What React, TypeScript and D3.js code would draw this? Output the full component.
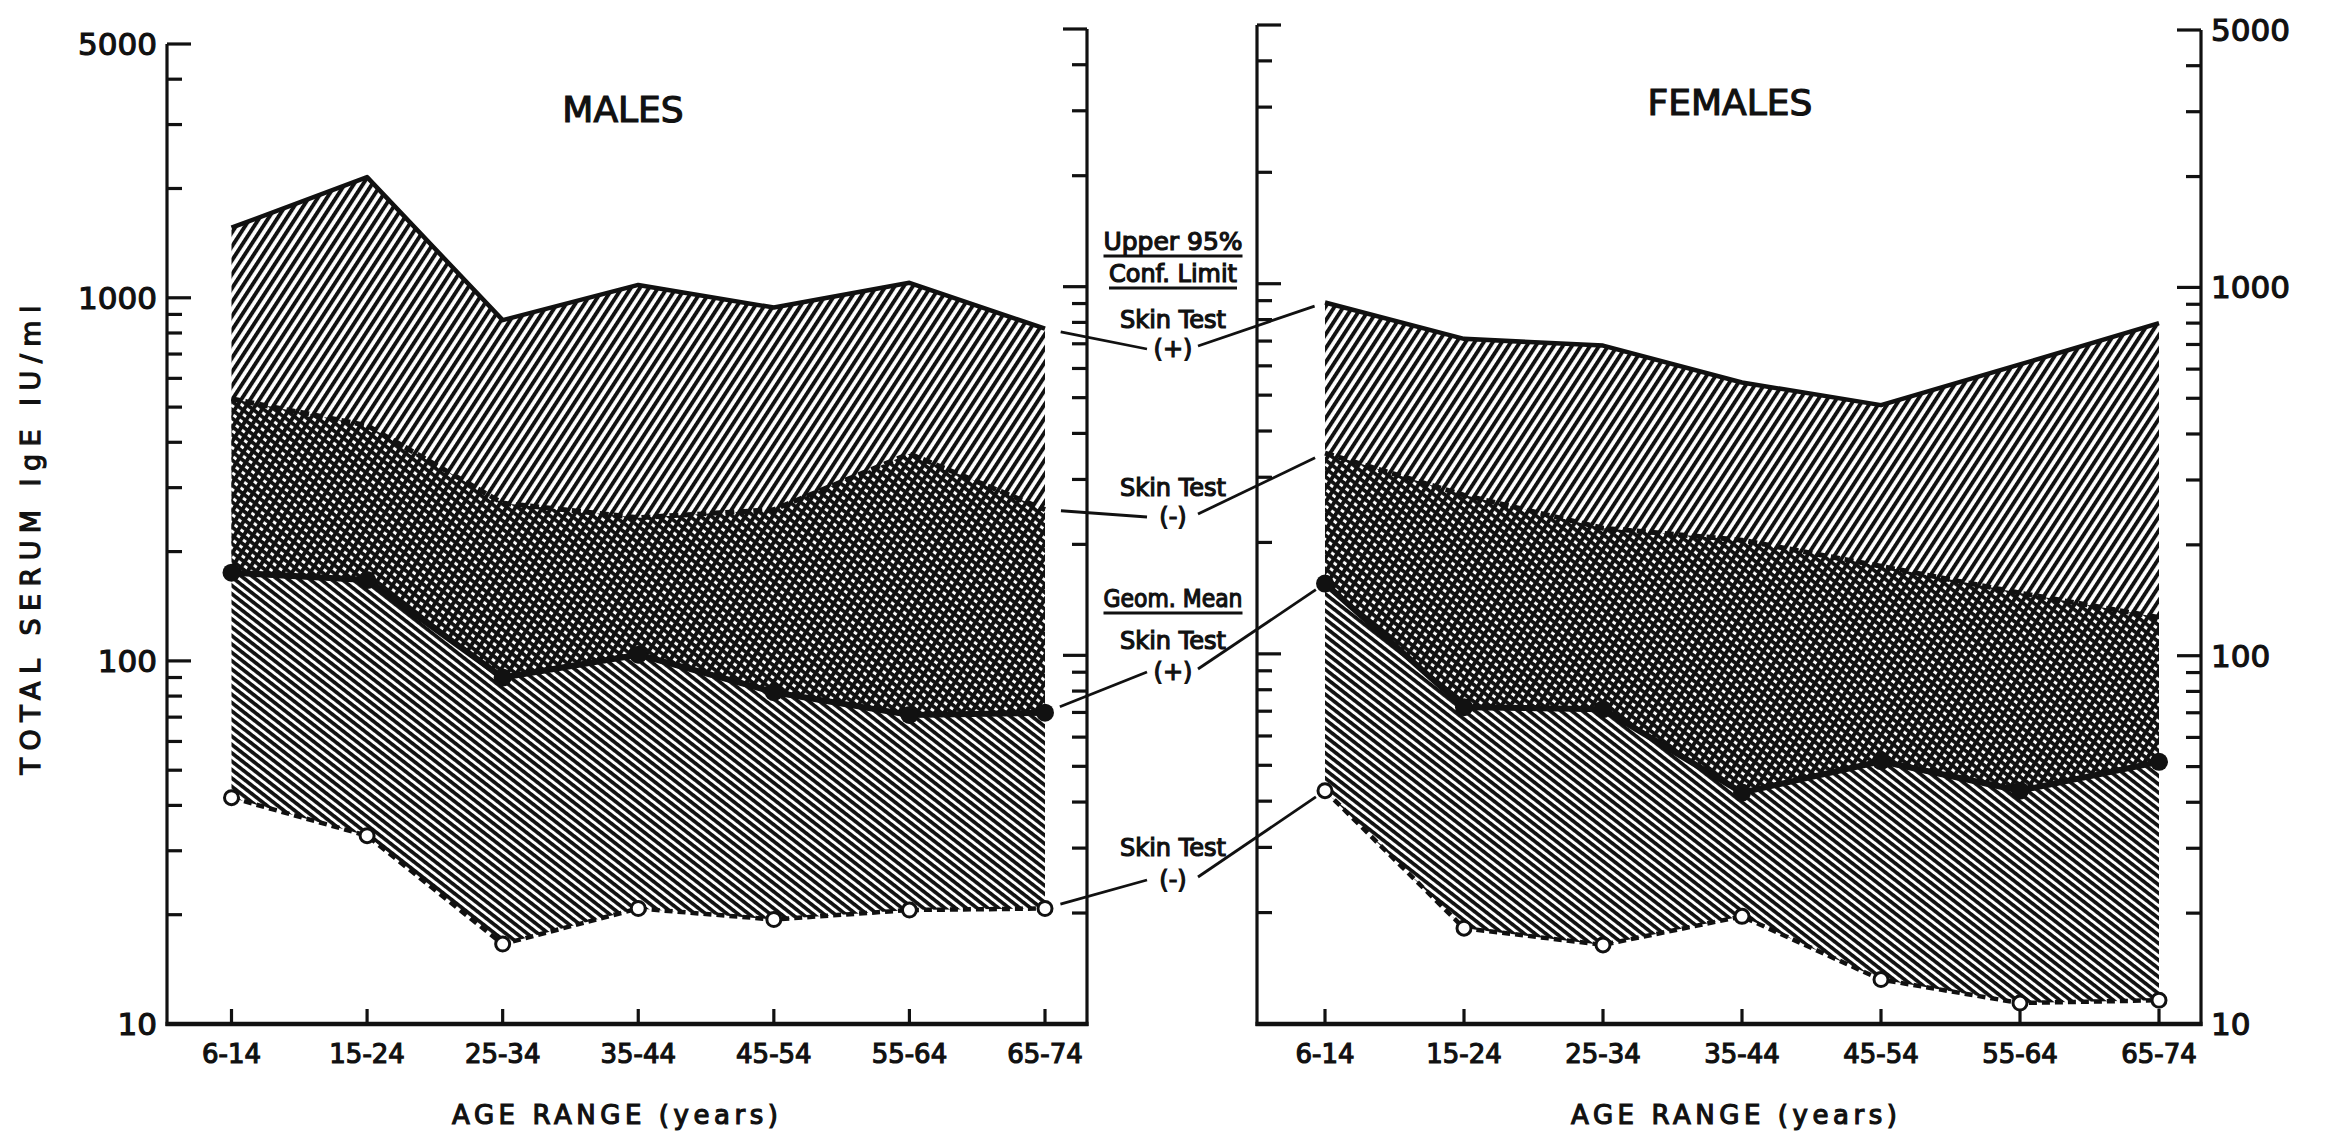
import { useRef, useEffect } from "react";
import * as d3 from "d3";

const W = 2327;
const H = 1132;

const AGE_GROUPS = ["6-14", "15-24", "25-34", "35-44", "45-54", "55-64", "65-74"];
const Y_LABELS = [5000, 1000, 100, 10];

// males (IU/ml)
const MALE_UPPER_POS = [1560, 2150, 868, 1085, 940, 1100, 822];
const MALE_UPPER_NEG = [527, 445, 272, 248, 261, 372, 261];
const MALE_MEAN_POS = [175, 167, 90, 104, 82, 71, 72];
const MALE_MEAN_NEG = [42, 33, 16.6, 20.8, 19.4, 20.6, 20.8];

// females (IU/ml)
const FEMALE_UPPER_POS = [910, 725, 695, 552, 479, 618, 800];
const FEMALE_UPPER_NEG = [355, 273, 222, 206, 175, 148, 127];
const FEMALE_MEAN_POS = [157, 72.5, 71.6, 42.5, 51.7, 43, 51.5];
const FEMALE_MEAN_NEG = [43, 18.2, 16.4, 19.6, 13.2, 11.4, 11.6];

const FONT = "'DejaVu Sans', Verdana, sans-serif";
const INK = "#111";
const BASE_Y = 1024;

type Row = { a: string; up: number; un: number; mp: number; mn: number };

export default function App() {
  const svgRef = useRef<SVGSVGElement>(null);

  useEffect(() => {
    const svg = d3.select(svgRef.current);
    svg.selectAll("*").remove();

    // --- hatch patterns ---
    const defs = svg.append("defs");
    const hatch = (id: string, angle: number, period: number, thick: number) => {
      const p = defs
        .append("pattern")
        .attr("id", id)
        .attr("patternUnits", "userSpaceOnUse")
        .attr("width", 20)
        .attr("height", period)
        .attr("patternTransform", `rotate(${angle})`);
      p.append("rect").attr("x", 0).attr("y", 0).attr("width", 20).attr("height", thick).attr("fill", INK);
    };
    hatch("hatch-up", -57, 7.6, 3.9);
    hatch("hatch-down", 38, 6.6, 3.7);

    const g = svg.append("g");

    const text = (x: number, y: number, s: string, size: number, anchor = "middle") =>
      g
        .append("text")
        .attr("x", x)
        .attr("y", y)
        .attr("text-anchor", anchor)
        .attr("font-family", FONT)
        .attr("font-size", size)
        .attr("fill", INK)
        .attr("stroke", INK)
        .attr("stroke-width", 1.2)
        .text(s);

    // --- vertical log axis ---
    function drawYAxis(xPos: number, scale: d3.ScaleLogarithmic<number, number>, dir: number) {
      const [y0, y1] = scale.range();
      g.append("line")
        .attr("x1", xPos).attr("x2", xPos)
        .attr("y1", y0 + 2).attr("y2", y1)
        .attr("stroke", INK).attr("stroke-width", 3.2);
      scale.ticks().forEach((v) => {
        const major = v === 10 || v === 100 || v === 1000 || v === 5000;
        g.append("line")
          .attr("x1", xPos).attr("x2", xPos + dir * (major ? 24 : 15))
          .attr("y1", scale(v)).attr("y2", scale(v))
          .attr("stroke", INK).attr("stroke-width", 3.2);
      });
    }

    const panels = [
      {
        title: "MALES", titleX: 623, titleY: 122, xTitleX: 615,
        xRange: [231.5, 1045], yTop: 44,
        axisL: 167, axisLTop: 44, axisR: 1087, axisRTop: 29,
        labelSide: "left",
        up: MALE_UPPER_POS, un: MALE_UPPER_NEG, mp: MALE_MEAN_POS, mn: MALE_MEAN_NEG,
      },
      {
        title: "FEMALES", titleX: 1730, titleY: 115, xTitleX: 1734,
        xRange: [1325, 2159], yTop: 30,
        axisL: 1257, axisLTop: 25, axisR: 2201, axisRTop: 30,
        labelSide: "right",
        up: FEMALE_UPPER_POS, un: FEMALE_UPPER_NEG, mp: FEMALE_MEAN_POS, mn: FEMALE_MEAN_NEG,
      },
    ];

    const ends: { x: number; y: Record<string, number> }[] = [];

    panels.forEach((p, pi) => {
      const x = d3.scalePoint<string>().domain(AGE_GROUPS).range(p.xRange as [number, number]);
      const y = d3.scaleLog().domain([10, 5000]).range([BASE_Y, p.yTop]);
      const rows: Row[] = AGE_GROUPS.map((a, i) => ({ a, up: p.up[i], un: p.un[i], mp: p.mp[i], mn: p.mn[i] }));

      // --- axes ---
      drawYAxis(p.axisL, d3.scaleLog().domain([10, 5000]).range([BASE_Y, p.axisLTop]), 1);
      drawYAxis(p.axisR, d3.scaleLog().domain([10, 5000]).range([BASE_Y, p.axisRTop]), -1);
      g.append("line")
        .attr("x1", p.axisL - 1.5).attr("x2", p.axisR + 1.5)
        .attr("y1", BASE_Y).attr("y2", BASE_Y)
        .attr("stroke", INK).attr("stroke-width", 4.5);
      AGE_GROUPS.forEach((a) => {
        g.append("line")
          .attr("x1", x(a)!).attr("x2", x(a)!)
          .attr("y1", BASE_Y).attr("y2", BASE_Y - 15)
          .attr("stroke", INK).attr("stroke-width", 3.2);
        text(x(a)!, 1063, a, 26);
      });

      // tick labels
      const labScale = d3
        .scaleLog()
        .domain([10, 5000])
        .range([BASE_Y, p.labelSide === "left" ? p.axisLTop : p.axisRTop]);
      Y_LABELS.forEach((v) => {
        const t = p.labelSide === "left" ? text(157, labScale(v), String(v), 31, "end") : text(2211, labScale(v), String(v), 31, "start");
        t.attr("dominant-baseline", "central");
      });

      text(p.titleX, p.titleY, p.title, 36);
      text(p.xTitleX, 1124, "AGE RANGE (years)", 26).attr("textLength", 326).attr("lengthAdjust", "spacing");

      // --- hatched bands ---
      const areaNeg = d3.area<Row>().x((d) => x(d.a)!).y0((d) => y(d.mn)).y1((d) => y(d.un));
      const areaPos = d3.area<Row>().x((d) => x(d.a)!).y0((d) => y(d.mp)).y1((d) => y(d.up));
      g.append("path").attr("d", areaNeg(rows)!).attr("fill", "url(#hatch-down)");
      g.append("path").attr("d", areaPos(rows)!).attr("fill", "url(#hatch-up)");

      const line = (key: keyof Row) => d3.line<Row>().x((d) => x(d.a)!).y((d) => y(d[key] as number));

      g.append("path").attr("d", line("up")(rows)!)
        .attr("fill", "none").attr("stroke", INK).attr("stroke-width", 4.5).attr("stroke-linejoin", "round");
      g.append("path").attr("d", line("un")(rows)!)
        .attr("fill", "none").attr("stroke", INK).attr("stroke-width", 5).attr("stroke-dasharray", "9,5");
      g.append("path").attr("d", line("mp")(rows)!)
        .attr("fill", "none").attr("stroke", INK).attr("stroke-width", 6).attr("stroke-linejoin", "round");
      g.append("path").attr("d", line("mn")(rows)!)
        .attr("fill", "none").attr("stroke", INK).attr("stroke-width", 4.5).attr("stroke-dasharray", "8,5");

      rows.forEach((d) => {
        g.append("circle").attr("cx", x(d.a)!).attr("cy", y(d.mp)).attr("r", 9).attr("fill", INK);
        g.append("circle").attr("cx", x(d.a)!).attr("cy", y(d.mn)).attr("r", 7)
          .attr("fill", "#fff").attr("stroke", INK).attr("stroke-width", 3);
      });

      const edge = pi === 0 ? rows[rows.length - 1] : rows[0];
      ends.push({
        x: x(edge.a)!,
        y: { up: y(edge.up), un: y(edge.un), mp: y(edge.mp), mn: y(edge.mn) },
      });
    });

    // --- y axis title ---
    g.append("text")
      .attr("transform", "translate(40,540) rotate(-90)")
      .attr("text-anchor", "middle")
      .attr("font-family", FONT)
      .attr("font-size", 27)
      .attr("fill", INK)
      .attr("stroke", INK)
      .attr("stroke-width", 1.2)
      .attr("textLength", 469)
      .attr("lengthAdjust", "spacing")
      .text("TOTAL SERUM IgE IU/ml");

    // --- middle legend with leader lines ---
    const cx = 1173;
    const header = (s: string, yb: number, len: number) => {
      text(cx, yb, s, 24).attr("textLength", len).attr("lengthAdjust", "spacingAndGlyphs");
      g.append("line")
        .attr("x1", cx - len / 2).attr("x2", cx + len / 2)
        .attr("y1", yb + 6).attr("y2", yb + 6)
        .attr("stroke", INK).attr("stroke-width", 2.8);
    };
    header("Upper 95%", 250, 139);
    header("Conf. Limit", 282, 128);
    header("Geom. Mean", 607, 139);

    const legend = [
      { key: "up", sign: "(+)", skinY: 328, signY: 357 },
      { key: "un", sign: "(-)", skinY: 496, signY: 525 },
      { key: "mp", sign: "(+)", skinY: 649, signY: 680 },
      { key: "mn", sign: "(-)", skinY: 856, signY: 888 },
    ];

    const shift = (from: number[], to: number[], gap: number) => {
      const dx = to[0] - from[0];
      const dy = to[1] - from[1];
      const L = Math.hypot(dx, dy);
      return [from[0] + (dx / L) * gap, from[1] + (dy / L) * gap];
    };

    legend.forEach((l) => {
      text(cx, l.skinY, "Skin Test", 24);
      text(cx, l.signY, l.sign, 24);
      const mEnd = [ends[0].x, ends[0].y[l.key]];
      const fStart = [ends[1].x, ends[1].y[l.key]];
      const la = [cx - 26, l.signY - 8];
      const ra = [cx + 25, l.signY - 11];
      const s0 = shift(mEnd, la, 16);
      const s1 = shift(fStart, ra, 11);
      g.append("line").attr("x1", s0[0]).attr("y1", s0[1]).attr("x2", la[0]).attr("y2", la[1])
        .attr("stroke", INK).attr("stroke-width", 2.8);
      g.append("line").attr("x1", ra[0]).attr("y1", ra[1]).attr("x2", s1[0]).attr("y2", s1[1])
        .attr("stroke", INK).attr("stroke-width", 2.8);
    });
  }, []);

  return (
    <div style={{ position: "absolute", left: 0, top: 0, width: W, height: H, background: "#fff" }}>
      <svg ref={svgRef} width={W} height={H} />
    </div>
  );
}
